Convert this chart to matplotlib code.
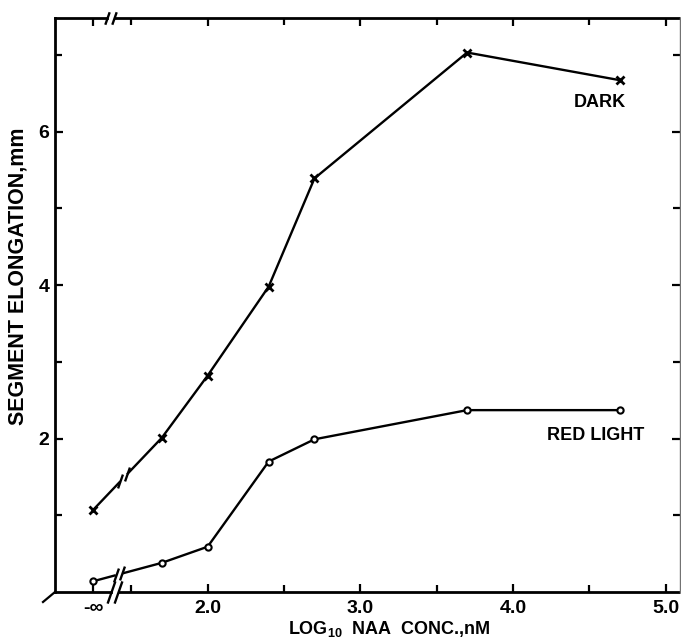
import numpy as np
import matplotlib
matplotlib.use("Agg")
import matplotlib.pyplot as plt
import matplotlib.transforms as mtransforms

# ---------------- data ----------------
log_conc = [-np.inf, 1.7, 2.0, 2.4, 2.7, 3.7, 4.7]
dark = [1.07, 2.01, 2.82, 3.98, 5.39, 7.03, 6.67]
red_light = [0.14, 0.38, 0.59, 1.70, 1.99, 2.37, 2.37]

x_tick_vals = [-np.inf, 2.0, 3.0, 4.0, 5.0]
x_tick_labels = ["-∞", "2.0", "3.0", "4.0", "5.0"]
x_minor = [1.5, 2.5, 3.5, 4.5]
y_major = [2, 4, 6]
y_major_labels = ["2", "4", "6"]
y_minor = [1, 3, 5, 7]

# ---------------- layout ----------------
NEG_INF_POS = 1.25   # where -inf sits on the broken axis
AXIS_BREAK = 1.39
TOP_BREAK = 1.365
DARK_BREAK = 1.45
RED_BREAK = 1.42
HALF_GAP = 0.022

def xpos(v):
    return NEG_INF_POS if np.isneginf(v) else v

plt.rcParams['font.family'] = ['Liberation Sans', 'DejaVu Sans']
plt.rcParams['font.weight'] = 'bold'
plt.rcParams['mathtext.default'] = 'regular'

fig = plt.figure(figsize=(6.81, 6.41), dpi=100)
ax = fig.add_axes([55/681, 1-592/641, 625/681, 574/641])
ax.set_xlim(1.0, 5.095)
ax.set_ylim(0, 7.48)

xs = np.array([xpos(v) for v in log_conc])
lw = 1.7

slash = [(-0.35, -1.0), (0.35, 1.0)]

def draw_series(ys, brk, marker, msize, mew, mfc):
    ys = np.array(ys)
    x0, x1 = xs[0], xs[1]
    y0, y1 = ys[0], ys[1]
    xa, xb = brk - HALF_GAP, brk + HALF_GAP
    ya = np.interp(xa, [x0, x1], [y0, y1])
    yb = np.interp(xb, [x0, x1], [y0, y1])
    ax.plot([x0, xa], [y0, ya], color='black', lw=lw, solid_capstyle='butt')
    ax.plot([xb, x1], [yb, y1], color='black', lw=lw, solid_capstyle='butt')
    ax.plot([xa, xb], [ya, yb], linestyle='none', marker=slash,
            markersize=10, markeredgewidth=1.7, color='black')
    ax.plot(xs[1:], ys[1:], color='black', lw=lw)
    ax.plot(xs, ys, linestyle='none', marker=marker, markersize=msize,
            markeredgewidth=mew, markerfacecolor=mfc, markeredgecolor='black',
            zorder=5)

draw_series(dark, DARK_BREAK, 'x', 6.0, 2.0, 'black')
draw_series(red_light, RED_BREAK, 'o', 4.5, 1.5, 'white')

# ---------------- spines with breaks ----------------
for s in ['top', 'bottom']:
    ax.spines[s].set_visible(False)
ax.spines['left'].set_linewidth(2.0)
ax.spines['right'].set_linewidth(1.0)
ax.spines['right'].set_color('0.45')

btrans = mtransforms.blended_transform_factory(ax.transData, ax.transAxes)
xl0, xl1 = ax.get_xlim()
for yy, brk, ms in [(0, AXIS_BREAK, 16), (1, TOP_BREAK, 9)]:
    ax.plot([xl0, brk - HALF_GAP], [yy, yy], transform=btrans, color='black',
            lw=2.0, clip_on=False, solid_capstyle='projecting')
    ax.plot([brk + HALF_GAP, xl1], [yy, yy], transform=btrans, color='black',
            lw=2.0, clip_on=False, solid_capstyle='butt')
    ax.plot([brk - HALF_GAP, brk + HALF_GAP], [yy, yy], transform=btrans,
            linestyle='none', marker=slash, markersize=ms, markeredgewidth=1.7,
            color='black', clip_on=False)

# stray corner stroke
ax.plot([0, -12/625], [0, -10/574], transform=ax.transAxes, color='black',
        lw=1.6, clip_on=False)

# ---------------- ticks ----------------
ax.set_xticks([xpos(v) for v in x_tick_vals])
ax.set_xticklabels(x_tick_labels)
ax.set_xticks(x_minor, minor=True)
ax.set_yticks(y_major)
ax.set_yticklabels(y_major_labels)
ax.set_yticks(y_minor, minor=True)
ax.tick_params(which='both', direction='in', top=True, right=True,
               width=1.6, labelsize=14)
ax.tick_params(which='major', length=6)
ax.tick_params(which='minor', length=5)
ax.tick_params(axis='x', pad=6)
ax.tick_params(axis='y', pad=4)
for t in ax.get_xticklabels() + ax.get_yticklabels():
    t.set_fontweight('bold')

# ---------------- labels ----------------
ax.set_ylabel("SEGMENT ELONGATION,mm", fontsize=15.5, fontweight='bold')
ax.yaxis.set_label_coords(-0.043, 0.55)
fig.text(389/681, 1-629/641, "LOG$_{10}$  NAA  CONC.,nM", fontsize=13,
         fontweight='bold', ha='center', va='center')

ax.text(4.57, 6.38, "DARK", fontsize=13, fontweight='bold', ha='center', va='center')
ax.text(4.54, 2.04, "RED LIGHT", fontsize=13, fontweight='bold', ha='center', va='center')

fig.savefig("out.png", dpi=100)
